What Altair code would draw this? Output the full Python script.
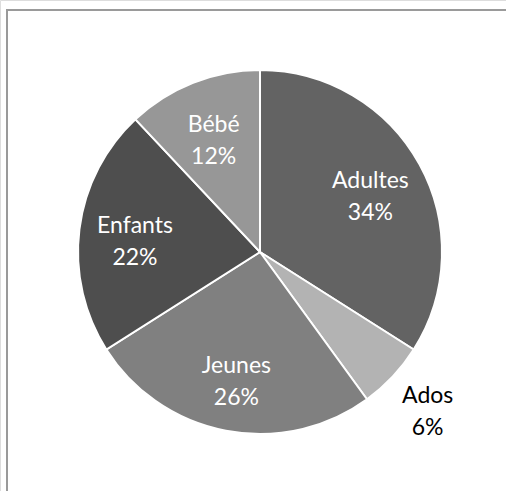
import altair as alt
import pandas as pd

categories = ["Adultes", "Ados", "Jeunes", "Enfants", "Bébé"]
values = [34, 6, 26, 22, 12]
colors = ["#636363", "#b3b3b3", "#808080", "#4e4e4e", "#979797"]
inside = [True, False, True, True, True]

df = pd.DataFrame({
    "cat": categories,
    "val": values,
    "idx": list(range(len(categories))),
    "inside": inside,
})

W, H = 506, 491
CX, CY, R = 260, 252, 182
FONT, FS, LH = "Lato", 23, 32

base = alt.Chart(df).transform_calculate(
    label="datum.cat + '\\n' + datum.val + '%'"
)

theta = alt.Theta("val:Q", stack=True)
order = alt.Order("idx:Q", sort="ascending")

pie = base.mark_arc(outerRadius=R, stroke="white", strokeWidth=2).encode(
    theta=theta,
    order=order,
    color=alt.Color("cat:N", scale=alt.Scale(domain=categories, range=colors), legend=None),
    x=alt.value(CX),
    y=alt.value(CY),
)

txt_in = base.mark_text(
    radius=126, font=FONT, fontSize=FS, color="white", dy=-10,
    lineBreak="\n", lineHeight=LH, align="center", baseline="middle"
).encode(
    theta=theta, order=order, text="label:N", x=alt.value(CX), y=alt.value(CY),
    opacity=alt.condition("datum.inside", alt.value(1), alt.value(0)),
)

txt_out = base.mark_text(
    radius=230, font=FONT, fontSize=FS, color="black", dy=-13,
    lineBreak="\n", lineHeight=LH, align="center", baseline="middle"
).encode(
    theta=theta, order=order, text="label:N", x=alt.value(CX), y=alt.value(CY),
    opacity=alt.condition("datum.inside", alt.value(0), alt.value(1)),
)

frame_top = alt.Chart(df).mark_rule(color="#9a9a9a", strokeWidth=2).encode(
    x=alt.value(6), x2=alt.value(W), y=alt.value(10)
)
frame_left = alt.Chart(df).mark_rule(color="#9a9a9a", strokeWidth=2).encode(
    x=alt.value(7), y=alt.value(10), y2=alt.value(H)
)

chart = alt.layer(frame_top, frame_left, pie, txt_in, txt_out).properties(
    width=W, height=H, padding=0, autosize=alt.AutoSizeParams(type="none")
).configure_view(stroke=None).configure(background="white")

chart.save("out.html", embed_options={"renderer": "svg", "actions": False})
